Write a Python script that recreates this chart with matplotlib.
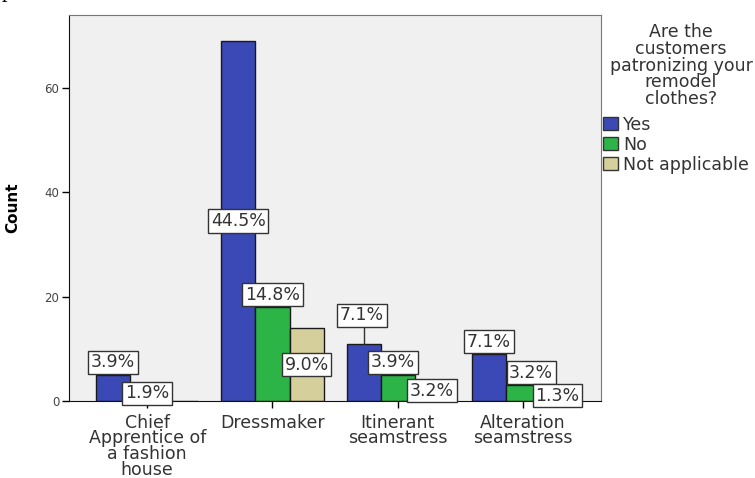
import matplotlib
matplotlib.use('Agg')
import numpy as np
import matplotlib.pyplot as plt
from matplotlib.patches import Patch

plt.rcParams['font.family'] = ['DejaVu Sans']

categories = ['Chief\nApprentice of\na fashion\nhouse', 'Dressmaker',
              'Itinerant\nseamstress', 'Alteration\nseamstress']
answers = ['Yes', 'No', 'Not applicable']
legend_title = 'Are the\ncustomers\npatronizing your\nremodel\nclothes?'

count_yes = [5, 69, 11, 9]
count_no = [3, 18, 5, 3]
count_na = [0, 14, 4, 2]

pct_yes = ['3.9%', '44.5%', '7.1%', '7.1%']
pct_no = ['1.9%', '14.8%', '3.9%', '3.2%']
pct_na = ['', '9.0%', '3.2%', '1.3%']

colors = ['#3A49B6', '#2DB447', '#D5CF9C']

# where each percentage box sits: inside the bar, on top of it, or lifted with a leader line
place = [['top', 'mid', 'lead', 'top'],
         ['mid', 'top', 'top', 'top'],
         [None, 'mid', 'mid', 'mid']]
nudge = [[0, 0, -0.015, 0],
         [0, 0, -0.04, 0.065],
         [0, 0, 0, 0]]

fig = plt.figure(figsize=(7.55, 4.78), dpi=100)
ax = fig.add_axes([0.0914, 0.161, 0.705, 0.808])
ax.set_facecolor('#F0F0F0')

x = np.arange(len(categories))
w = 0.272
series = [count_yes, count_no, count_na]
labels = [pct_yes, pct_no, pct_na]
box = dict(boxstyle='square,pad=0.15', fc='white', ec='#333333', lw=1)

for k, (vals, col) in enumerate(zip(series, colors)):
    xs = x + (k - 1) * w
    ax.bar(xs, vals, width=w, color=col, edgecolor='#1a1a1a', linewidth=1,
           label=answers[k], zorder=2)
    for i, v in enumerate(vals):
        mode = place[k][i]
        if mode is None:
            continue
        if mode == 'mid':
            ly = v / 2
        elif mode == 'top':
            ly = v + 2.4
        else:
            ly = v + 5.4
            ax.plot([xs[i], xs[i]], [v, ly - 2], color='#333333', lw=1, zorder=3)
        ax.text(xs[i] + nudge[k][i], ly, labels[k][i], ha='center', va='center',
                fontsize=12.5, color='#333333', bbox=box, zorder=4)

ax.set_xlim(-0.624, 3.624)
ax.set_ylim(0, 74)
ax.set_yticks([0, 20, 40, 60])
ax.set_xticks(x)
ax.set_xticklabels(categories, fontsize=12.5, color='#333333', linespacing=0.84)
ax.tick_params(axis='y', length=5, width=1, labelsize=8.5, labelcolor='#444444', pad=2)
ax.tick_params(axis='x', length=5, width=1, pad=4)
for s in ['top', 'right']:
    ax.spines[s].set_color('#777777')
for s in ['left', 'bottom']:
    ax.spines[s].set_color('#111111')
ax.set_ylabel('Count', fontsize=11, fontweight='bold')
ax.yaxis.set_label_coords(-0.092, 0.5)

# legend title drawn on its own, centred over the entries
fig.text(0.902, 0.951, legend_title, ha='center', va='top', fontsize=12.5,
         color='#333333', linespacing=0.9)
handles = [Patch(facecolor=c, edgecolor='#333333') for c in colors]
leg = fig.legend(handles, answers, loc='upper left', bbox_to_anchor=(0.799, 0.758),
                 frameon=False, fontsize=12.5, handlelength=0.85, handleheight=0.8,
                 handletextpad=0.3, labelspacing=0.12, borderaxespad=0, borderpad=0)
for t in leg.get_texts():
    t.set_color('#333333')

fig.text(0.002, 1.006, 'p', fontsize=16, family='Liberation Serif', va='baseline')

fig.savefig('out.png', dpi=100)
